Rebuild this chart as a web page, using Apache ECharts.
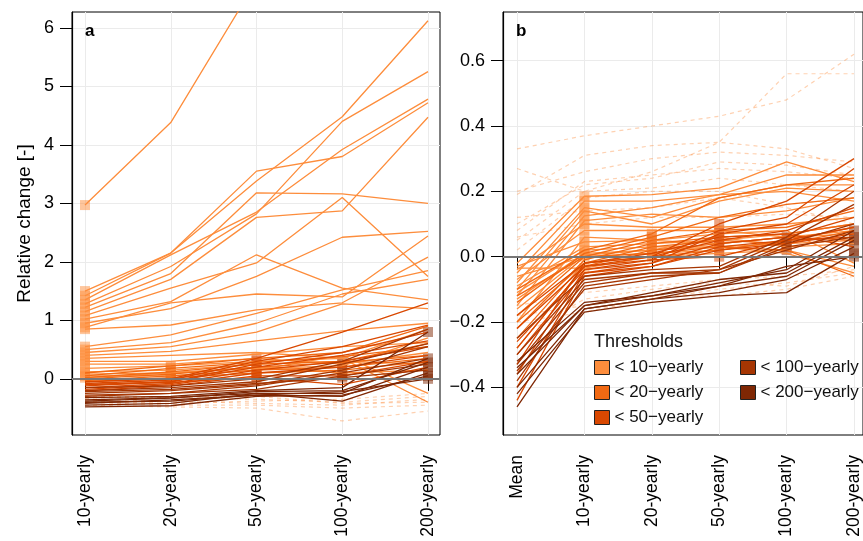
<!DOCTYPE html>
<html>
<head>
<meta charset="utf-8">
<script src="https://cdn.jsdelivr.net/npm/echarts@6/dist/echarts.min.js"></script>
<style>
  html, body { margin: 0; padding: 0; background: #fff; }
  #chart { width: 863px; height: 541px; }
</style>
</head>
<body>
<div id="chart"></div>
<script>
// categories and tick labels
const catsA = ['10-yearly', '20-yearly', '50-yearly', '100-yearly', '200-yearly'];
const catsB = ['Mean', '10-yearly', '20-yearly', '50-yearly', '100-yearly', '200-yearly'];
const groupNames = ['< 10\u2212yearly', '< 20\u2212yearly', '< 50\u2212yearly', '< 100\u2212yearly', '< 200\u2212yearly'];
const groupColors = ['#FD8D3C', '#F16913', '#D94801', '#A63603', '#7F2704'];
const ticksA = [0, 1, 2, 3, 4, 5, 6];
const ticksB = [-0.4, -0.2, 0, 0.2, 0.4, 0.6];

// panel a: one line per site, grouped by threshold
const a10 = [
  [2.97, 4.38, 6.8, 9.0, 11.0],
  [1.50, 2.15, 3.38, 4.48, 6.12],
  [1.42, 2.15, 3.55, 3.80, 4.72],
  [1.35, 2.12, 2.85, 3.92, 4.78],
  [1.28, 1.92, 2.82, 4.40, 5.25],
  [1.22, 1.80, 3.18, 3.16, 3.00],
  [1.15, 1.70, 2.76, 2.87, 4.47],
  [1.08, 1.55, 1.98, 3.10, 1.75],
  [1.02, 1.32, 2.12, 1.55, 1.35],
  [0.95, 1.20, 1.75, 2.42, 2.52],
  [0.88, 1.30, 1.45, 1.40, 2.44],
  [0.85, 0.92, 1.18, 1.30, 2.08],
  [0.55, 0.75, 1.12, 1.52, 1.85],
  [0.50, 0.62, 0.95, 1.45, 1.70],
  [0.45, 0.55, 0.80, 1.28, 1.20],
  [0.40, 0.47, 0.65, 0.82, 0.95],
  [0.35, 0.40, 0.45, 0.35, 0.85],
  [0.30, 0.30, 0.42, 0.55, 0.62],
  [0.25, 0.25, 0.35, 0.25, 0.45],
  [0.18, 0.22, 0.30, 0.35, -0.40],
  [0.12, 0.15, 0.25, 0.30, 0.25],
  [0.08, 0.10, 0.20, 0.10, 0.15],
  [0.05, 0.05, 0.15, 0.40, -0.25],
  [0.02, 0.10, 0.18, 0.22, 0.70]
];
const a20 = [
  [0.10, 0.22, 0.35, 0.45, 0.90],
  [0.05, 0.18, 0.28, 0.38, 0.55],
  [0.02, 0.12, 0.25, 0.30, 0.60],
  [0.00, 0.08, 0.20, 0.28, 0.40],
  [-0.03, 0.05, 0.15, 0.20, 0.35],
  [-0.05, 0.02, 0.10, 0.15, 0.30]
];
const a50 = [
  [-0.05, 0.00, 0.35, 0.80, 1.30],
  [-0.08, -0.02, 0.30, 0.55, 0.92],
  [-0.10, -0.05, 0.25, 0.45, 0.80],
  [-0.12, -0.05, 0.20, 0.40, 0.65],
  [-0.15, -0.08, 0.15, 0.30, 0.55],
  [-0.18, -0.10, 0.10, 0.20, 0.40],
  [-0.20, -0.12, 0.05, 0.05, 0.30],
  [-0.10, -0.06, 0.02, -0.10, 0.20]
];
const a100 = [
  [-0.15, -0.12, 0.00, 0.30, 0.85],
  [-0.20, -0.15, -0.05, 0.25, 0.60],
  [-0.25, -0.20, -0.10, 0.15, 0.55],
  [-0.28, -0.25, -0.12, 0.10, 0.35],
  [-0.30, -0.25, -0.18, 0.05, 0.25],
  [-0.22, -0.18, -0.08, 0.02, 0.15]
];
const a200 = [
  [-0.32, -0.30, -0.20, -0.15, 0.80],
  [-0.36, -0.32, -0.25, -0.25, 0.35],
  [-0.40, -0.38, -0.28, -0.30, 0.20],
  [-0.45, -0.42, -0.25, -0.38, 0.10],
  [-0.48, -0.46, -0.30, -0.28, 0.05],
  [-0.42, -0.36, -0.28, -0.22, 0.00],
  [-0.38, -0.33, -0.22, -0.20, 0.28]
];
const aDashed = [
  [-0.30, -0.32, -0.35, -0.40, -0.30],
  [-0.35, -0.38, -0.42, -0.45, -0.35],
  [-0.40, -0.45, -0.45, -0.50, -0.45],
  [-0.45, -0.48, -0.50, -0.72, -0.55],
  [-0.38, -0.42, -0.38, -0.35, -0.25],
  [-0.33, -0.30, -0.30, -0.42, -0.40]
];

// panel b
const b10 = [
  [-0.02, 0.185, 0.19, 0.21, 0.29, 0.23],
  [-0.05, 0.17, 0.17, 0.19, 0.25, 0.25],
  [-0.08, 0.15, 0.12, 0.18, 0.22, 0.22],
  [-0.10, 0.14, 0.10, 0.17, 0.21, 0.20],
  [-0.12, 0.125, 0.15, 0.19, 0.20, 0.17],
  [-0.15, 0.11, 0.13, 0.12, 0.14, 0.18],
  [-0.04, 0.10, 0.09, 0.09, 0.10, 0.12],
  [-0.07, 0.08, 0.08, 0.08, 0.06, 0.08],
  [-0.20, 0.06, 0.05, 0.07, 0.08, -0.02],
  [-0.03, 0.045, 0.05, 0.04, 0.06, 0.07],
  [-0.09, 0.03, 0.04, 0.05, 0.07, 0.10],
  [-0.11, 0.02, 0.03, 0.03, 0.04, 0.05],
  [-0.13, 0.01, 0.02, 0.06, 0.03, 0.04],
  [-0.06, 0.00, 0.01, 0.02, 0.05, 0.06],
  [-0.035, -0.035, 0.00, 0.01, 0.02, -0.03],
  [-0.16, 0.005, 0.02, 0.03, 0.01, -0.05]
];
const b20 = [
  [-0.10, 0.02, 0.07, 0.18, 0.22, 0.24],
  [-0.14, 0.01, 0.06, 0.12, 0.16, 0.18],
  [-0.18, 0.00, 0.05, 0.08, 0.09, 0.14],
  [-0.22, -0.01, 0.04, 0.06, 0.07, 0.10],
  [-0.25, -0.02, 0.03, 0.05, 0.04, 0.08],
  [-0.28, -0.03, 0.02, 0.04, 0.06, 0.05],
  [-0.12, 0.00, 0.01, 0.03, 0.02, -0.06],
  [-0.20, -0.02, 0.00, 0.02, 0.05, 0.09]
];
const b50 = [
  [-0.22, -0.03, 0.00, 0.10, 0.17, 0.30],
  [-0.26, -0.04, -0.01, 0.08, 0.12, 0.27],
  [-0.30, -0.05, -0.02, 0.07, 0.10, 0.22],
  [-0.33, -0.02, 0.00, 0.05, 0.08, 0.15],
  [-0.36, -0.04, -0.02, 0.04, 0.06, 0.12],
  [-0.40, -0.05, -0.03, 0.03, 0.05, 0.09],
  [-0.44, -0.06, -0.03, 0.02, 0.04, 0.07],
  [-0.28, -0.03, -0.01, 0.00, 0.05, 0.06],
  [-0.18, -0.02, 0.01, 0.06, 0.07, 0.03]
];
const b100 = [
  [-0.25, -0.06, -0.04, -0.03, 0.06, 0.20],
  [-0.30, -0.07, -0.05, -0.04, 0.05, 0.16],
  [-0.33, -0.08, -0.05, -0.05, 0.04, 0.10],
  [-0.38, -0.09, -0.06, -0.05, 0.03, 0.06],
  [-0.35, -0.10, -0.07, -0.04, 0.02, 0.08]
];
const b200 = [
  [-0.32, -0.14, -0.12, -0.08, -0.04, 0.08],
  [-0.36, -0.15, -0.12, -0.09, -0.06, 0.05],
  [-0.40, -0.16, -0.13, -0.11, -0.07, 0.03],
  [-0.42, -0.17, -0.14, -0.12, -0.11, 0.01],
  [-0.46, -0.16, -0.13, -0.09, -0.03, 0.00],
  [-0.34, -0.15, -0.11, -0.07, -0.05, 0.06]
];
const bDashed = [
  [0.33, 0.37, 0.40, 0.43, 0.48, 0.62],
  [0.27, 0.20, 0.26, 0.35, 0.56, 0.56],
  [0.19, 0.31, 0.34, 0.35, 0.33, 0.27],
  [0.20, 0.26, 0.30, 0.32, 0.31, 0.29],
  [0.10, 0.22, 0.24, 0.29, 0.28, 0.25],
  [0.08, 0.23, 0.25, 0.27, 0.26, 0.24],
  [0.05, 0.20, 0.21, 0.24, 0.22, 0.20],
  [0.02, 0.18, 0.20, 0.20, 0.16, 0.18],
  [0.12, 0.14, 0.15, 0.18, 0.15, 0.10],
  [0.06, 0.10, 0.12, 0.12, 0.13, 0.12],
  [-0.20, -0.17, -0.13, -0.10, -0.08, -0.05],
  [-0.18, -0.15, -0.12, -0.12, -0.10, -0.06],
  [-0.25, -0.13, -0.10, -0.08, -0.09, -0.03],
  [-0.15, -0.11, -0.09, -0.07, -0.06, -0.04]
];

const font = 'Liberation Sans, Arial, Helvetica, sans-serif';

function panelSeries(groups, dashed, axisIdx, offset) {
  let out = [];
  dashed.forEach(d => {
    out.push({
      type: 'line', name: 'ns', xAxisIndex: axisIdx, yAxisIndex: axisIdx,
      data: d, symbol: 'none', silent: true, z: 2,
      lineStyle: { color: '#FD8D3C', opacity: 0.4, width: 1.2, type: [4, 4] }
    });
  });
  groups.forEach((lines, g) => {
    lines.forEach(l => {
      out.push({
        type: 'line', name: groupNames[g], xAxisIndex: axisIdx, yAxisIndex: axisIdx,
        data: l, symbol: 'none', color: groupColors[g], silent: true, z: 3,
        lineStyle: { width: 1.3 }
      });
    });
    // squares at the threshold category of the group
    out.push({
      type: 'scatter', name: groupNames[g] + ' pts', xAxisIndex: axisIdx, yAxisIndex: axisIdx,
      data: lines.map(l => [g + offset, l[g + offset]]),
      symbol: 'rect', symbolSize: 10, z: 2, silent: true,
      itemStyle: { color: groupColors[g], opacity: 0.5 }
    });
  });
  return out;
}

function zeroLine(idx) {
  return {
    type: 'line', xAxisIndex: idx, yAxisIndex: idx, data: [], z: 6, silent: true,
    markLine: {
      symbol: 'none', silent: true, label: { show: false },
      lineStyle: { color: '#777', width: 2, type: 'solid' },
      data: [{ yAxis: 0 }]
    }
  };
}

function frameY(min, max, ticks, split, fmt) {
  return {
    type: 'value', min: min, max: max, splitNumber: split,
    axisLine: { show: true, lineStyle: { color: '#000', width: 1.2 } },
    axisTick: { show: true, length: 12, customValues: ticks, lineStyle: { color: '#000' } },
    axisLabel: { customValues: ticks, formatter: fmt, color: '#000', fontSize: 18, margin: 18, fontFamily: font },
    splitLine: { show: true, lineStyle: { color: '#ebebeb', width: 1 } }
  };
}

function dataX(gridIdx, cats) {
  return {
    type: 'category', gridIndex: gridIdx, data: cats, boundaryGap: false,
    axisLine: { show: false },
    axisTick: { show: true, length: 12, inside: false, lineStyle: { color: '#000' } },
    axisLabel: { rotate: 90, color: '#000', fontSize: 17.5, margin: 20, fontFamily: font, interval: 0 },
    splitLine: { show: true, lineStyle: { color: '#ebebeb', width: 1 } }
  };
}

const legendBase = {
  orient: 'vertical', top: 354, icon: 'rect', itemWidth: 15, itemHeight: 14, itemGap: 8,
  selectedMode: false,
  itemStyle: { borderColor: '#222', borderWidth: 1, opacity: 1 },
  textStyle: { fontSize: 17, color: '#111', fontFamily: font }
};

const chart = echarts.init(document.getElementById('chart'));
chart.setOption({
  animation: false,
  backgroundColor: '#fff',
  textStyle: { fontFamily: font },
  title: [
    { text: 'a', left: 80, top: 18, textStyle: { fontSize: 17, fontWeight: 'bold', color: '#000' } },
    { text: 'b', left: 511, top: 18, textStyle: { fontSize: 17, fontWeight: 'bold', color: '#000' } },
    { text: 'Thresholds', left: 589, top: 328, textStyle: { fontSize: 18, fontWeight: 'normal', color: '#111' } }
  ],
  legend: [
    Object.assign({}, legendBase, { data: groupNames.slice(0, 3), left: 589 }),
    Object.assign({}, legendBase, { data: groupNames.slice(3), left: 735 })
  ],
  grid: [
    { left: 72, top: 12, width: 368, height: 423, show: true, borderColor: '#000', borderWidth: 1, backgroundColor: 'transparent' },
    { left: 85, top: 12, width: 343, height: 423 },
    { left: 503, top: 12, width: 368, height: 423, show: true, borderColor: '#000', borderWidth: 1, backgroundColor: 'transparent' },
    { left: 517, top: 12, width: 342, height: 423 }
  ],
  xAxis: [
    { type: 'value', gridIndex: 0, min: 0, max: 1, show: false },
    dataX(1, catsA),
    { type: 'value', gridIndex: 2, min: 0, max: 1, show: false },
    dataX(3, catsB)
  ],
  yAxis: [
    Object.assign(frameY(-0.96, 6.27, ticksA, 7, v => String(Math.round(v))), {
      gridIndex: 0, name: 'Relative change [-]', nameLocation: 'middle', nameGap: 38,
      nameTextStyle: { fontSize: 19, color: '#000', fontFamily: font }
    }),
    { type: 'value', gridIndex: 1, min: -0.96, max: 6.27, show: false },
    Object.assign(frameY(-0.546, 0.749, ticksB, 6, v => (v < -1e-9 ? '\u2212' + Math.abs(v).toFixed(1) : Math.abs(v).toFixed(1))), { gridIndex: 2 }),
    { type: 'value', gridIndex: 3, min: -0.546, max: 0.749, show: false }
  ],
  series: [
    zeroLine(0),
    zeroLine(2)
  ].concat(
    panelSeries([a10, a20, a50, a100, a200], aDashed, 1, 0),
    panelSeries([b10, b20, b50, b100, b200], bDashed, 3, 1)
  )
});
</script>
</body>
</html>
